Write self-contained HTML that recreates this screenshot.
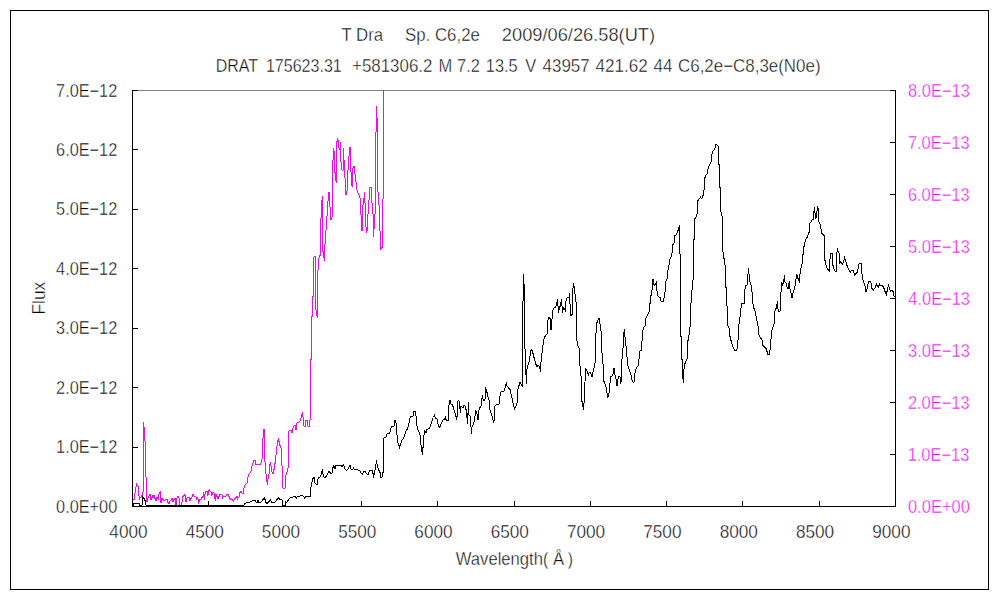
<!DOCTYPE html>
<html><head><meta charset="utf-8"><style>
html,body{margin:0;padding:0;background:#fff;overflow:hidden}
svg{display:block}
</style></head><body>
<svg width="1000" height="600" viewBox="0 0 1000 600">
<rect x="0" y="0" width="1000" height="600" fill="#fff"/>
<rect x="10.5" y="10.5" width="978" height="579" fill="none" stroke="#000" stroke-width="1" shape-rendering="crispEdges"/>
<line x1="132" y1="90.5" x2="896" y2="90.5" stroke="#808080" stroke-width="1" shape-rendering="crispEdges"/>
<clipPath id="pc"><rect x="132" y="90" width="764" height="417"/></clipPath>
<g clip-path="url(#pc)" fill="none" stroke-width="1" stroke-linejoin="miter" shape-rendering="crispEdges">
<polyline points="132.01,489.01 132.01,499.51 133.01,499.51 134.01,500.01 134.51,494.01 135.01,493.51 135.51,488.51 136.01,487.51 136.51,483.01 137.01,485.01 138.01,486.01 138.51,487.51 139.01,496.01 139.51,500.01 140.01,497.01 141.01,497.01 142.01,495.51 142.51,499.01 143.01,492.01 143.51,491.51 143.51,422.01 144.51,432.01 145.51,450.01 146.01,477.01 146.01,500.01 147.01,502.01 148.01,498.01 148.51,497.51 149.51,495.01 150.01,494.01 150.51,495.01 150.51,499.01 151.01,499.51 152.01,497.01 152.51,496.01 153.01,498.01 154.01,495.51 155.01,498.51 156.01,500.51 157.01,497.01 157.51,497.51 158.51,500.01 159.01,494.01 160.01,492.01 160.51,491.01 161.01,503.01 162.01,498.01 163.01,499.51 164.01,501.01 165.01,500.01 166.01,499.01 167.01,499.51 168.01,502.51 169.01,504.01 170.01,501.01 171.01,500.01 172.01,498.51 173.01,502.01 174.01,499.51 175.01,498.01 175.51,499.01 175.51,505.01 176.51,505.01 176.51,499.01 177.01,498.01 178.01,496.51 179.01,498.01 179.01,504.51 180.01,505.01 181.51,505.01 182.01,502.01 183.01,496.51 184.01,495.51 185.01,494.51 186.01,502.01 187.01,498.01 188.01,497.01 189.01,497.51 190.01,500.51 191.01,498.51 192.01,497.01 193.01,494.51 194.01,496.01 195.01,496.51 196.01,497.01 196.51,499.51 197.01,497.01 198.01,499.01 198.51,502.51 199.01,501.51 200.01,499.51 201.01,499.01 202.01,497.51 203.01,496.01 203.51,492.51 204.01,496.51 204.51,499.51 205.01,494.01 205.51,491.51 207.01,491.51 207.51,494.51 208.01,495.51 208.51,491.01 209.51,489.51 210.01,491.01 211.01,492.01 211.51,496.01 212.01,494.51 213.01,492.51 214.01,492.51 214.51,498.01 215.01,499.01 215.51,500.51 216.01,494.51 217.01,496.51 218.01,499.01 219.01,496.51 220.01,494.51 221.01,494.51 222.01,495.01 222.51,498.51 223.01,496.01 226.01,496.01 227.01,494.51 228.01,494.51 229.01,496.51 229.51,498.01 230.51,499.01 231.51,499.01 232.51,500.01 233.51,501.01 234.01,500.01 235.01,498.51 236.01,497.51 237.01,496.51 237.51,499.01 238.01,498.01 239.01,497.01 240.01,492.51 241.01,491.51 242.01,493.01 243.01,494.01 244.01,488.01 245.01,485.01 246.01,484.01 247.01,483.01 248.01,477.01 249.01,474.01 250.01,473.01 251.01,471.01 252.01,466.01 253.01,463.01 254.01,460.01 255.01,460.51 256.01,464.51 257.01,465.01 258.01,464.01 259.01,464.51 260.01,465.01 261.01,463.01 262.01,459.01 263.01,438.01 264.01,429.01 264.51,456.01 265.01,462.01 265.51,470.01 266.51,478.01 267.51,485.01 268.01,479.01 269.01,474.01 270.01,464.01 270.51,462.01 271.51,470.01 272.51,473.51 273.51,473.01 274.51,466.01 275.51,461.01 276.51,450.01 277.51,442.01 278.51,438.01 279.51,445.01 280.51,445.01 281.01,448.01 281.51,461.01 282.51,470.01 283.01,488.01 284.01,489.01 285.01,488.01 285.51,477.01 287.01,472.01 288.01,468.01 288.51,450.01 289.01,431.01 290.01,430.01 291.01,430.01 292.01,433.01 293.01,428.01 294.01,426.01 295.01,425.01 296.01,430.01 297.01,423.01 298.01,422.01 299.01,422.01 300.01,421.01 301.01,418.01 302.01,414.01 302.51,412.01 303.51,421.01 304.01,426.01 305.01,427.01 306.01,420.01 307.01,420.01 308.01,426.01 309.01,427.01 309.51,423.01 310.01,421.01 310.51,359.01 311.51,359.01 311.51,316.01 312.51,316.01 312.51,296.01 313.31,296.01 313.31,261.01 314.21,256.01 315.01,256.01 315.01,266.01 315.31,306.01 316.51,313.51 317.51,317.51 317.51,280.01 318.51,260.01 319.51,256.01 320.51,255.01 320.51,231.01 321.51,205.01 322.51,196.01 323.01,251.51 324.31,260.51 325.01,244.01 326.01,230.01 327.01,216.01 328.01,201.01 329.01,192.01 329.51,205.01 330.01,207.01 330.51,215.01 331.01,220.01 332.01,218.01 332.51,173.01 333.51,148.01 334.51,155.01 334.51,167.01 335.51,178.01 336.51,183.01 336.51,145.01 337.51,138.01 338.51,142.01 339.01,148.01 340.01,150.01 340.51,142.01 341.01,162.01 342.01,170.01 343.01,170.01 343.51,148.01 344.01,160.01 345.01,178.01 346.01,195.01 347.01,191.01 347.01,180.01 348.01,170.01 349.01,156.01 350.01,147.01 351.01,172.01 351.01,184.01 352.51,187.01 353.01,168.01 354.01,166.01 355.01,174.01 356.01,182.01 357.01,190.01 358.01,193.01 359.01,195.01 360.01,198.01 361.01,215.01 362.01,231.01 363.01,205.01 364.01,198.01 364.51,192.01 365.01,203.01 365.51,217.01 366.31,232.51 367.51,229.01 368.01,214.01 369.01,200.01 369.51,187.01 371.01,187.01 372.01,203.01 373.01,214.01 373.51,236.51 375.01,214.01 375.51,185.01 375.51,166.01 376.41,106.01 377.31,124.01 377.51,180.01 378.01,192.01 379.51,212.01 380.51,249.51 381.51,248.01 382.81,247.01 383.51,90.01" stroke="#ff00ff"/>
<polyline points="132.01,505.01 133.51,505.01 134.01,503.51 135.01,503.01 138.01,503.01 139.01,503.51 139.51,505.01 142.01,505.01 142.51,496.51 143.01,497.01 144.01,498.51 145.01,500.51 145.51,503.01 146.01,505.01 244.01,505.01 245.01,503.51 247.01,502.51 250.01,502.01 253.01,500.51 255.01,500.01 256.01,502.01 257.01,503.01 258.01,500.51 259.01,502.51 261.01,502.01 263.01,499.51 264.51,498.01 266.01,502.51 267.01,503.51 269.01,501.51 270.51,500.01 271.51,502.51 273.01,502.01 275.01,502.01 277.01,499.51 278.51,498.01 280.01,499.51 282.01,500.01 282.51,505.01 284.01,505.01 285.01,505.01 285.51,502.01 287.01,502.01 289.01,499.01 290.01,498.01 292.01,497.81 293.41,496.31 295.61,497.01 296.41,498.01 297.51,496.31 301.31,495.91 302.01,495.01 303.51,496.61 304.61,498.01 305.81,496.61 310.31,496.31 310.61,490.01 311.51,484.31 312.01,482.01 313.01,478.31 314.41,477.51 315.01,483.01 316.01,484.01 317.01,484.61 317.51,480.01 318.51,478.01 320.01,477.01 321.01,475.01 321.51,472.01 322.51,470.01 323.01,474.01 324.01,477.01 325.01,478.01 326.01,476.51 327.01,475.01 328.01,473.01 329.01,471.01 330.01,472.51 331.01,473.51 332.01,473.01 332.51,469.01 333.51,466.01 334.51,467.01 335.01,468.51 336.01,465.51 337.01,465.01 338.01,465.01 339.01,465.01 340.01,466.01 341.01,465.51 342.01,466.51 343.51,465.01 345.01,469.01 346.51,470.51 348.01,469.01 349.01,467.01 350.01,465.01 351.01,469.01 352.01,470.01 353.51,468.01 354.51,469.51 356.01,469.51 358.01,470.01 359.51,470.51 361.01,473.01 362.51,474.51 364.01,471.01 365.51,472.01 367.01,474.01 368.51,474.01 369.51,470.51 371.01,470.01 372.51,471.01 373.51,476.01 374.51,473.01 375.51,467.01 376.51,460.51 377.01,464.01 377.51,467.01 378.51,469.51 380.01,472.51 380.51,477.01 382.01,477.01 383.01,472.51 383.01,449.01 384.01,438.01 385.01,437.51 386.01,437.01 387.01,434.01 388.01,433.51 389.01,434.01 390.01,432.01 391.01,428.01 392.01,426.01 393.01,426.01 394.01,426.01 395.01,420.01 396.01,423.01 396.51,427.01 397.01,435.01 397.51,442.01 398.51,444.01 399.51,447.01 400.51,444.01 401.01,443.01 402.01,440.01 403.01,439.01 404.01,437.01 405.01,434.01 405.51,432.01 406.51,430.01 407.01,429.51 408.01,427.01 409.01,423.01 410.01,418.01 411.01,416.01 412.01,416.01 413.01,416.01 414.01,411.51 415.01,411.01 416.01,416.01 417.01,426.01 418.01,430.01 419.01,432.01 420.01,435.01 421.01,445.01 422.51,455.01 423.51,440.01 424.51,431.01 426.01,433.01 427.01,429.51 428.01,429.01 429.51,428.01 430.01,427.01 430.51,425.01 431.51,423.01 432.51,419.01 433.51,417.51 434.51,415.51 435.01,417.01 436.01,418.51 437.01,419.01 437.51,421.01 438.51,426.01 439.51,427.51 440.51,425.51 441.51,423.01 442.51,420.51 443.51,419.51 444.51,419.01 445.51,417.01 446.01,419.51 447.01,420.51 448.51,420.51 449.01,405.01 449.51,401.51 450.01,400.51 450.51,403.51 451.51,404.51 452.51,405.01 453.51,408.01 454.51,411.51 455.51,414.51 456.51,418.51 457.51,415.01 458.01,400.51 459.01,401.01 459.51,405.01 460.51,412.51 461.01,406.51 462.01,407.01 463.01,407.51 464.01,405.01 465.01,406.01 465.51,407.51 466.51,411.51 467.51,423.51 468.51,402.51 469.01,415.01 470.01,416.01 471.01,427.01 471.51,433.51 472.01,427.01 473.01,425.01 474.01,422.01 475.01,416.01 475.51,410.01 476.51,412.51 477.51,415.01 478.01,420.01 478.51,412.01 479.51,408.01 481.01,406.51 481.51,400.01 482.51,395.51 483.01,399.01 484.01,401.01 485.01,399.01 485.51,387.51 486.51,390.01 487.51,395.01 489.01,400.01 489.51,409.01 491.01,413.01 492.51,417.01 493.51,423.01 494.51,419.01 495.01,406.01 496.01,405.01 497.51,404.51 499.01,404.01 499.51,398.51 500.51,393.01 501.51,391.51 503.51,391.51 504.51,390.01 506.01,384.01 506.51,382.51 507.01,386.01 508.51,388.01 510.01,389.51 511.51,396.01 513.01,403.01 514.51,409.01 515.51,407.01 517.01,403.01 517.51,390.01 518.51,388.01 519.51,383.01 520.51,382.51 521.51,385.01 522.51,387.01 522.51,328.01 523.51,274.01 524.51,293.01 524.51,330.01 525.51,366.01 526.51,383.51 527.01,369.01 528.01,365.01 529.51,361.01 530.51,351.01 531.51,350.01 532.51,351.01 533.51,356.01 534.51,359.01 535.51,363.01 536.51,366.01 537.51,366.01 538.51,365.51 539.51,367.01 540.51,371.51 541.01,362.01 542.01,353.01 543.01,345.01 543.51,341.01 544.51,337.01 546.01,335.01 547.51,333.01 547.51,322.01 548.51,317.51 549.51,318.01 550.51,319.01 551.01,330.01 552.01,319.01 552.51,311.51 554.01,308.01 555.51,307.01 556.51,305.01 557.51,299.51 558.51,312.51 559.51,308.01 560.51,305.01 561.51,299.51 562.51,312.51 563.51,308.01 564.51,309.01 565.51,311.51 566.01,301.01 567.01,298.01 568.01,297.01 569.01,297.51 569.51,293.51 570.51,315.01 571.51,315.01 572.51,314.01 573.01,288.51 573.51,283.51 574.51,289.01 575.51,299.01 576.51,304.51 576.51,336.01 577.51,345.01 579.01,348.01 580.01,366.01 581.01,376.01 581.31,400.71 582.31,402.01 583.01,406.71 583.31,409.71 584.01,402.71 584.71,389.31 585.51,369.01 586.51,370.01 587.51,372.01 588.51,376.01 589.01,373.01 590.01,372.51 591.01,374.01 592.01,377.01 593.01,372.01 594.01,368.01 595.01,363.01 595.51,342.01 596.51,324.01 597.51,321.01 598.51,319.01 599.51,318.51 600.01,324.01 601.01,331.01 601.51,350.01 602.01,353.01 603.01,364.01 603.51,380.01 604.51,383.01 606.01,387.01 607.01,393.01 607.51,398.01 608.51,395.51 609.51,390.01 610.51,377.01 612.01,376.01 613.01,374.01 614.01,368.51 614.51,374.01 615.51,376.01 616.51,382.01 617.01,386.01 618.01,379.01 619.01,376.51 620.01,377.01 620.51,383.01 621.51,381.01 622.01,359.01 623.01,348.01 623.51,336.01 624.51,329.01 625.01,337.01 626.01,346.01 626.51,350.01 627.51,364.01 629.01,369.01 630.51,373.01 632.01,380.01 633.01,382.01 634.01,382.01 635.01,373.01 635.51,370.01 637.01,367.01 638.51,365.01 639.01,359.01 640.01,351.01 641.51,350.01 642.51,332.01 643.51,328.01 645.01,326.01 646.01,318.01 647.51,315.01 649.01,312.01 649.51,304.01 650.31,303.01 650.31,296.01 651.31,295.01 651.71,290.01 652.31,289.71 652.71,279.31 653.31,279.31 653.71,284.01 654.31,285.31 655.31,284.01 656.31,282.31 656.71,290.71 657.31,291.31 658.01,296.31 659.71,297.31 660.31,298.01 660.31,300.71 661.31,301.31 663.31,301.31 663.71,298.01 664.71,297.31 664.71,292.01 665.71,291.31 665.71,281.31 666.71,280.01 667.31,278.71 667.51,275.01 668.01,270.01 669.01,265.01 669.51,260.01 671.01,257.01 672.01,253.01 672.51,245.01 674.01,243.01 674.51,236.01 676.01,235.01 677.51,232.01 678.51,229.01 679.51,225.01 679.51,253.01 680.51,255.01 680.51,336.01 681.51,337.01 681.51,359.01 682.51,359.01 682.51,375.01 683.51,383.01 684.01,369.01 684.51,364.01 685.51,363.01 686.51,359.51 687.51,358.51 687.51,341.01 688.51,340.01 689.01,335.01 690.01,327.01 691.01,303.01 692.01,290.01 693.01,280.01 693.51,270.01 693.51,250.01 694.01,240.01 694.51,219.01 696.01,217.01 697.01,214.01 697.51,201.01 699.01,199.01 700.51,197.01 701.51,198.51 702.51,197.01 703.51,194.01 704.01,190.01 704.51,179.01 705.51,176.01 707.01,174.01 708.01,169.01 709.01,166.01 710.01,164.01 711.01,162.01 711.51,156.01 712.51,152.01 714.01,150.01 715.01,148.01 715.51,144.51 716.51,144.51 717.51,145.51 718.51,147.01 718.51,164.01 719.51,165.01 719.51,187.01 720.51,188.01 720.51,211.51 721.51,213.01 722.01,216.01 722.51,245.01 723.51,258.01 724.51,259.01 725.01,265.01 725.51,287.01 726.51,288.01 726.51,300.01 727.01,306.01 727.51,325.51 729.01,328.01 729.51,335.01 730.51,338.01 731.51,343.01 733.01,347.01 734.51,350.01 736.51,350.01 737.51,348.01 738.01,340.01 738.51,326.01 739.51,322.01 740.51,313.01 741.51,303.51 744.51,303.01 744.51,293.01 745.51,285.01 747.01,285.01 747.51,280.01 748.51,268.01 749.01,274.01 750.01,282.01 751.51,286.01 752.01,292.01 753.01,304.01 753.01,306.01 755.01,311.01 756.51,319.01 758.01,326.01 758.51,334.51 760.01,337.01 762.01,340.01 762.51,345.01 764.51,347.01 766.51,349.01 767.51,354.01 769.01,355.01 770.51,347.01 771.51,331.01 773.01,327.01 774.01,324.01 774.51,313.01 775.51,309.01 776.51,308.01 777.51,301.01 778.01,309.01 779.01,312.01 780.51,310.01 781.01,292.01 781.51,282.01 782.51,285.01 783.51,283.01 784.51,275.01 785.01,282.01 786.01,283.01 787.01,287.01 788.01,289.01 789.01,283.01 789.51,282.01 790.01,289.01 791.01,293.01 792.01,298.01 793.01,293.01 794.01,290.01 795.51,284.01 796.51,274.01 797.51,277.01 798.51,280.01 799.51,282.01 800.01,274.01 801.01,268.01 802.01,264.01 802.51,256.01 803.51,253.01 803.51,249.01 804.51,244.01 805.51,240.01 806.51,238.01 807.51,237.01 808.51,233.01 809.51,232.01 809.51,224.01 811.01,222.01 812.01,220.01 813.51,219.01 813.51,216.01 814.51,207.01 815.01,213.01 815.51,218.01 816.51,217.01 817.51,206.01 818.01,208.01 818.51,221.01 819.51,223.01 820.51,225.01 821.51,233.01 823.01,234.51 824.51,236.01 824.51,257.01 825.51,264.01 827.01,268.01 829.51,271.51 830.01,259.01 831.01,253.01 832.01,253.01 832.51,263.01 833.51,268.01 834.51,270.01 835.51,271.51 836.51,271.01 836.51,255.01 837.51,249.51 838.51,252.01 839.51,254.01 839.51,263.01 840.51,262.01 841.51,263.01 842.51,264.51 843.51,262.01 844.51,257.51 845.51,260.01 846.51,264.01 847.51,267.01 848.51,269.01 849.51,271.01 850.51,272.01 851.51,270.51 853.01,270.51 854.01,273.01 854.51,275.01 855.51,274.01 856.51,273.01 857.51,272.01 858.01,269.01 859.01,264.01 860.01,263.51 861.51,264.01 862.01,274.01 863.01,280.01 864.01,283.01 865.01,286.01 866.01,292.01 867.01,289.01 868.51,282.01 870.01,281.01 871.01,283.01 871.51,288.01 872.51,289.01 873.51,290.01 874.51,288.51 875.51,287.01 876.51,284.01 877.51,286.01 878.51,287.01 879.51,284.01 880.51,285.51 882.01,285.51 883.51,287.01 884.51,290.01 885.51,293.01 886.51,295.01 887.51,288.01 888.51,285.51 889.51,289.01 890.51,291.01 891.51,290.51 892.51,291.01 893.51,292.01 894.01,296.01 895.01,297.01" stroke="#000"/>
</g>
<g shape-rendering="crispEdges" stroke="#000" stroke-width="1">
<line x1="132.5" y1="90" x2="132.5" y2="507"/>
<line x1="895.5" y1="90" x2="895.5" y2="507"/>
<line x1="132" y1="506.5" x2="896" y2="506.5"/>
<line x1="132" y1="506.5" x2="138" y2="506.5"/>
<line x1="132" y1="447.5" x2="138" y2="447.5"/>
<line x1="132" y1="387.5" x2="138" y2="387.5"/>
<line x1="132" y1="328.5" x2="138" y2="328.5"/>
<line x1="132" y1="268.5" x2="138" y2="268.5"/>
<line x1="132" y1="209.5" x2="138" y2="209.5"/>
<line x1="132" y1="149.5" x2="138" y2="149.5"/>
<line x1="132" y1="90.5" x2="138" y2="90.5"/>
<line x1="890" y1="506.5" x2="896" y2="506.5"/>
<line x1="890" y1="454.5" x2="896" y2="454.5"/>
<line x1="890" y1="402.5" x2="896" y2="402.5"/>
<line x1="890" y1="350.5" x2="896" y2="350.5"/>
<line x1="890" y1="298.5" x2="896" y2="298.5"/>
<line x1="890" y1="246.5" x2="896" y2="246.5"/>
<line x1="890" y1="194.5" x2="896" y2="194.5"/>
<line x1="890" y1="142.5" x2="896" y2="142.5"/>
<line x1="890" y1="90.5" x2="896" y2="90.5"/>
<line x1="132.5" y1="501" x2="132.5" y2="507"/>
<line x1="208.5" y1="501" x2="208.5" y2="507"/>
<line x1="285.5" y1="501" x2="285.5" y2="507"/>
<line x1="361.5" y1="501" x2="361.5" y2="507"/>
<line x1="437.5" y1="501" x2="437.5" y2="507"/>
<line x1="514.5" y1="501" x2="514.5" y2="507"/>
<line x1="590.5" y1="501" x2="590.5" y2="507"/>
<line x1="666.5" y1="501" x2="666.5" y2="507"/>
<line x1="742.5" y1="501" x2="742.5" y2="507"/>
<line x1="819.5" y1="501" x2="819.5" y2="507"/>
<line x1="895.5" y1="501" x2="895.5" y2="507"/>
</g>
<g font-family="'Liberation Sans', sans-serif" font-size="18" stroke="#fff" stroke-width="0.4">
<text x="56.09" y="512.5" textLength="61.14" lengthAdjust="spacingAndGlyphs" fill="#000">0.0E+00</text>
<text x="56.09" y="452.5" textLength="61.14" lengthAdjust="spacingAndGlyphs" fill="#000">1.0E−12</text>
<text x="56.09" y="393.5" textLength="61.14" lengthAdjust="spacingAndGlyphs" fill="#000">2.0E−12</text>
<text x="56.09" y="333.5" textLength="61.14" lengthAdjust="spacingAndGlyphs" fill="#000">3.0E−12</text>
<text x="56.09" y="274.5" textLength="61.14" lengthAdjust="spacingAndGlyphs" fill="#000">4.0E−12</text>
<text x="56.09" y="214.5" textLength="61.14" lengthAdjust="spacingAndGlyphs" fill="#000">5.0E−12</text>
<text x="56.09" y="155.5" textLength="61.14" lengthAdjust="spacingAndGlyphs" fill="#000">6.0E−12</text>
<text x="56.09" y="96.5" textLength="61.14" lengthAdjust="spacingAndGlyphs" fill="#000">7.0E−12</text>
<text x="908.12" y="512.5" textLength="61.68" lengthAdjust="spacingAndGlyphs" fill="#ff00ff">0.0E+00</text>
<text x="907.66" y="460.5" textLength="61.68" lengthAdjust="spacingAndGlyphs" fill="#ff00ff">1.0E−13</text>
<text x="907.89" y="408.5" textLength="61.68" lengthAdjust="spacingAndGlyphs" fill="#ff00ff">2.0E−13</text>
<text x="908.12" y="356.5" textLength="61.68" lengthAdjust="spacingAndGlyphs" fill="#ff00ff">3.0E−13</text>
<text x="908.34" y="304.5" textLength="61.68" lengthAdjust="spacingAndGlyphs" fill="#ff00ff">4.0E−13</text>
<text x="908.12" y="252.5" textLength="61.68" lengthAdjust="spacingAndGlyphs" fill="#ff00ff">5.0E−13</text>
<text x="907.89" y="200.5" textLength="61.68" lengthAdjust="spacingAndGlyphs" fill="#ff00ff">6.0E−13</text>
<text x="907.89" y="148.5" textLength="61.68" lengthAdjust="spacingAndGlyphs" fill="#ff00ff">7.0E−13</text>
<text x="908.12" y="96.5" textLength="61.68" lengthAdjust="spacingAndGlyphs" fill="#ff00ff">8.0E−13</text>
<text x="109.37" y="537.5" textLength="38.24" lengthAdjust="spacingAndGlyphs" fill="#000">4000</text>
<text x="185.67" y="537.5" textLength="38.24" lengthAdjust="spacingAndGlyphs" fill="#000">4500</text>
<text x="261.85" y="537.5" textLength="38.24" lengthAdjust="spacingAndGlyphs" fill="#000">5000</text>
<text x="338.15" y="537.5" textLength="38.24" lengthAdjust="spacingAndGlyphs" fill="#000">5500</text>
<text x="414.33" y="537.5" textLength="38.24" lengthAdjust="spacingAndGlyphs" fill="#000">6000</text>
<text x="490.63" y="537.5" textLength="38.24" lengthAdjust="spacingAndGlyphs" fill="#000">6500</text>
<text x="566.93" y="537.5" textLength="38.24" lengthAdjust="spacingAndGlyphs" fill="#000">7000</text>
<text x="643.23" y="537.5" textLength="38.24" lengthAdjust="spacingAndGlyphs" fill="#000">7500</text>
<text x="719.65" y="537.5" textLength="38.24" lengthAdjust="spacingAndGlyphs" fill="#000">8000</text>
<text x="795.95" y="537.5" textLength="38.24" lengthAdjust="spacingAndGlyphs" fill="#000">8500</text>
<text x="872.25" y="537.5" textLength="38.24" lengthAdjust="spacingAndGlyphs" fill="#000">9000</text>
<text x="341.53" y="40.5" textLength="41.61" lengthAdjust="spacingAndGlyphs" fill="#000">T Dra</text>
<text x="405.00" y="40.5" textLength="74.86" lengthAdjust="spacingAndGlyphs" fill="#000">Sp. C6,2e</text>
<text x="501.89" y="40.5" textLength="153.22" lengthAdjust="spacingAndGlyphs" fill="#000">2009/06/26.58(UT)</text>
<text x="215.67" y="71.5" textLength="42.31" lengthAdjust="spacingAndGlyphs" fill="#000">DRAT</text>
<text x="265.89" y="71.5" textLength="75.87" lengthAdjust="spacingAndGlyphs" fill="#000">175623.31</text>
<text x="352.06" y="71.5" textLength="80.33" lengthAdjust="spacingAndGlyphs" fill="#000">+581306.2</text>
<text x="438.62" y="71.5" textLength="13.75" lengthAdjust="spacingAndGlyphs" fill="#000">M</text>
<text x="457.09" y="71.5" textLength="22.85" lengthAdjust="spacingAndGlyphs" fill="#000">7.2</text>
<text x="485.86" y="71.5" textLength="31.86" lengthAdjust="spacingAndGlyphs" fill="#000">13.5</text>
<text x="525.27" y="71.5" textLength="10.97" lengthAdjust="spacingAndGlyphs" fill="#000">V</text>
<text x="542.53" y="71.5" textLength="47.24" lengthAdjust="spacingAndGlyphs" fill="#000">43957</text>
<text x="595.53" y="71.5" textLength="52.25" lengthAdjust="spacingAndGlyphs" fill="#000">421.62</text>
<text x="653.53" y="71.5" textLength="18.98" lengthAdjust="spacingAndGlyphs" fill="#000">44</text>
<text x="678.06" y="71.5" textLength="142.47" lengthAdjust="spacingAndGlyphs" fill="#000">C6,2e−C8,3e(N0e)</text>
<text x="455.77" y="564.8" textLength="87.18" lengthAdjust="spacingAndGlyphs" fill="#000">Wavelength</text>
<text x="543.12" y="564.8" textLength="5.31" lengthAdjust="spacingAndGlyphs" fill="#000">(</text>
<text x="553.00" y="564.8" textLength="11.11" lengthAdjust="spacingAndGlyphs" fill="#000">Å</text>
<text x="567.78" y="564.8" textLength="5.20" lengthAdjust="spacingAndGlyphs" fill="#000">)</text>
<text transform="translate(45,314.44) rotate(-90)" x="0" y="0" textLength="32.66" lengthAdjust="spacingAndGlyphs">Flux</text>
</g>
</svg>
</body></html>
